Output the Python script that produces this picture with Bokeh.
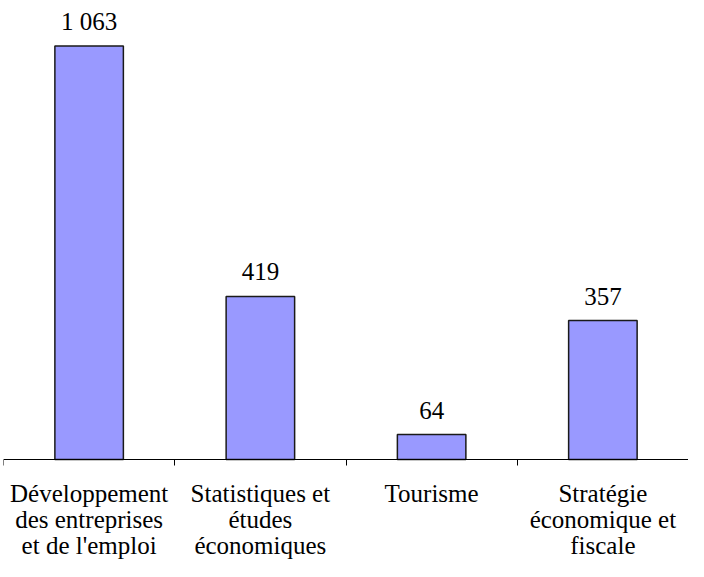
from bokeh.plotting import figure
from bokeh.models import (ColumnDataSource, LinearAxis, FixedTicker,
                          LabelSet, Range1d, FactorRange)
from bokeh.core.properties import value
from bokeh.embed import file_html
from bokeh.resources import INLINE

categories = ["Développement\ndes entreprises\net de l'emploi",
              "Statistiques et\nétudes\néconomiques",
              "Tourisme",
              "Stratégie\néconomique et\nfiscale"]
values = [1063, 419, 64, 357]
value_labels = [f"{v:,}".replace(",", " ") for v in values]
boundaries = list(range(len(categories) + 1))

FONT = "Liberation Serif"
FONT_SIZE = "25px"

split = [c.split("\n") + [""] * (3 - len(c.split("\n"))) for c in categories]
source = ColumnDataSource(dict(cat=categories, val=values, lab=value_labels,
                               zero=[0] * len(values),
                               l1=[s[0] for s in split],
                               l2=[s[1] for s in split],
                               l3=[s[2] for s in split]))

p = figure(x_range=FactorRange(factors=categories, range_padding=0, factor_padding=0),
           y_range=Range1d(-262.5, 1180),
           width=688, height=561, output_backend="svg", toolbar_location=None,
           x_axis_location=None, y_axis_location=None,
           min_border_left=3, min_border_right=0, min_border_top=0, min_border_bottom=0)
p.outline_line_color = None
p.grid.visible = False
p.background_fill_color = "white"

p.vbar(x="cat", top="val", width=0.4, bottom=0, source=source,
       fill_color="#9999FF", line_color="#1a1a1a", line_width=1.5)

labels = LabelSet(x="cat", y="val", text="lab", source=source,
                  text_align="center", text_baseline="alphabetic", y_offset=16,
                  text_font=value(FONT), text_font_size=value(FONT_SIZE), text_color="black")
p.add_layout(labels)

for col, off in (("l1", -43), ("l2", -69), ("l3", -95)):
    p.add_layout(LabelSet(x="cat", y="zero", text=col, source=source,
                          text_align="center", text_baseline="alphabetic", y_offset=off,
                          text_font=value(FONT), text_font_size=value(FONT_SIZE),
                          text_color="black"))

tick_axis = LinearAxis(ticker=FixedTicker(ticks=boundaries))
tick_axis.fixed_location = 0
tick_axis.axis_line_color = "black"
tick_axis.axis_line_width = 1
tick_axis.major_tick_line_color = "black"
tick_axis.major_tick_in = 0
tick_axis.major_tick_out = 6
tick_axis.minor_tick_line_color = None
tick_axis.major_label_overrides = {b: "" for b in boundaries}
tick_axis.major_label_standoff = 0
p.add_layout(tick_axis, "below")

open("out.html", "w").write(file_html(p, INLINE))
